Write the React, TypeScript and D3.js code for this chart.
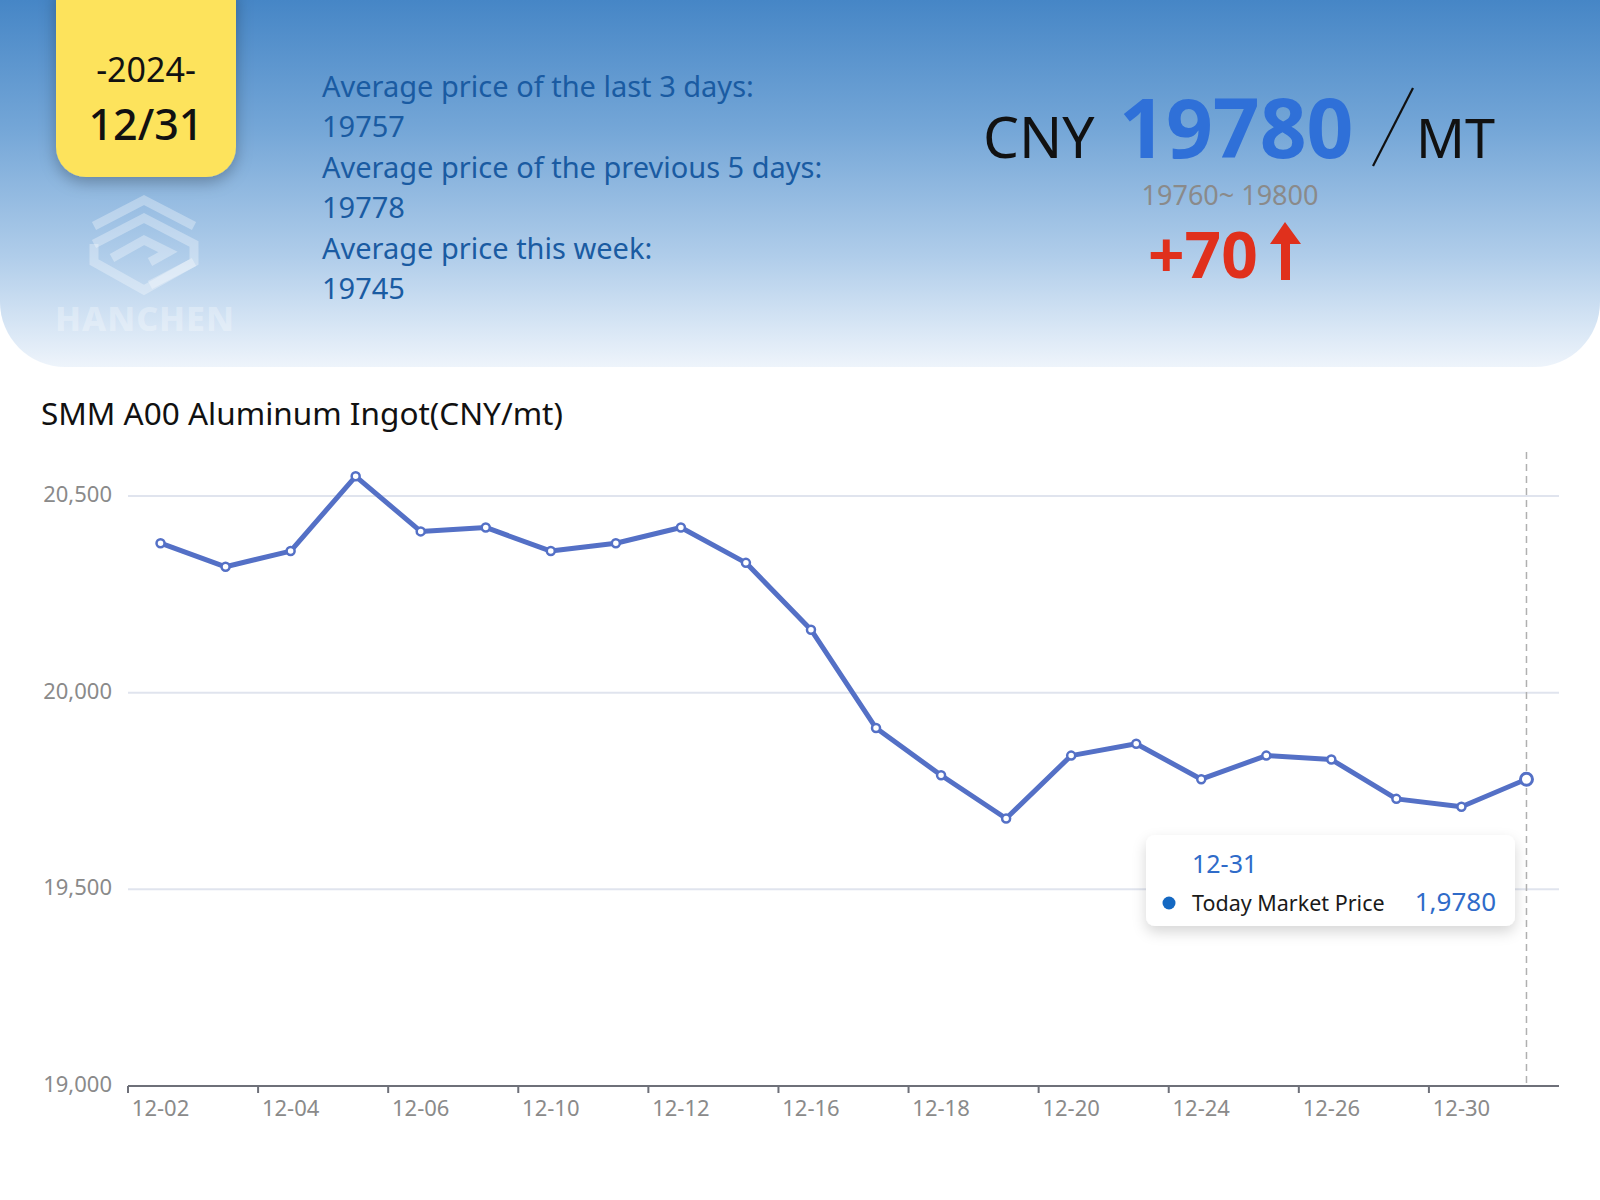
import React from 'react';
import * as d3 from 'd3';

const dates = [
  '12-02', '12-03', '12-04', '12-05', '12-06',
  '12-09', '12-10', '12-11', '12-12', '12-13',
  '12-16', '12-17', '12-18', '12-19', '12-20',
  '12-23', '12-24', '12-25', '12-26', '12-27',
  '12-30', '12-31'
];
const prices = [
  20380, 20320, 20360, 20550, 20410,
  20420, 20360, 20380, 20420, 20330,
  20160, 19910, 19790, 19680, 19840,
  19870, 19780, 19840, 19830, 19730,
  19710, 19780
];
const yTicks = [19000, 19500, 20000, 20500];
const summaryLines = [
  'Average price of the last 3 days:',
  '19757',
  'Average price of the previous 5 days:',
  '19778',
  'Average price this week:',
  '19745'
];

const W = 1600;
const H = 1200;
const FONT = '"Noto Sans", sans-serif';

const App: React.FC = () => {
  if (typeof document !== 'undefined') document.body.style.margin = '0';

  const x = d3.scaleBand<string>().domain(dates).range([128, 1559]).padding(0);
  const y = d3.scaleLinear().domain([19000, 20500]).range([1086, 496]);
  const cx = (d: string) => (x(d) ?? 0) + x.bandwidth() / 2;

  const line = d3.line<number>()
    .x((_, i) => cx(dates[i]))
    .y(d => y(d));

  const last = dates.length - 1;
  const tickIdx = dates.map((_, i) => i).filter(i => i % 2 === 0);

  return (
    <svg width={W} height={H} style={{ display: 'block', fontFamily: FONT }}>
      <defs>
        <linearGradient id="hdr" x1="0" y1="0" x2="0" y2="1">
          <stop offset="0%" stopColor="#4686c6" />
          <stop offset="35%" stopColor="#74a6d7" />
          <stop offset="70%" stopColor="#b0cdea" />
          <stop offset="100%" stopColor="#eef4fb" />
        </linearGradient>
        <filter id="cardShadow" x="-30%" y="-30%" width="160%" height="160%">
          <feDropShadow dx="0" dy="5" stdDeviation="8" floodColor="#000" floodOpacity="0.28" />
        </filter>
        <filter id="tipShadow" x="-20%" y="-40%" width="140%" height="190%">
          <feDropShadow dx="0" dy="6" stdDeviation="7" floodColor="#000" floodOpacity="0.16" />
        </filter>
      </defs>

      <rect width={W} height={H} fill="#fff" />

      {/* header band */}
      <path
        d={`M0,0 H${W} V302 A65,65 0 0 1 ${W - 65},367 H65 A65,65 0 0 1 0,302 Z`}
        fill="url(#hdr)"
      />

      {/* watermark logo */}
      <g fill="none" stroke="#ffffff" strokeOpacity={0.32} strokeWidth={9} strokeLinejoin="miter">
        <polyline points="94,226 144,200 194,226" />
        <polyline points="94,244 144,218 194,244 194,262 150,285" />
        <polyline points="94,244 94,262 144,290 194,262" />
        <polyline points="112,258 144,240 168,252 150,262" />
      </g>
      <text x={145} y={331} textAnchor="middle" fontSize={34} fontWeight={800}
        fill="#ffffff" fillOpacity={0.3} letterSpacing={1}>HANCHEN</text>

      {/* date card */}
      <path d="M56,-10 H236 V147 A30,30 0 0 1 206,177 H86 A30,30 0 0 1 56,147 Z"
        fill="#fde35c" filter="url(#cardShadow)" />
      <text x={146} y={82} textAnchor="middle" fontSize={34} fill="#111">-2024-</text>
      <text x={146} y={140} textAnchor="middle" fontSize={43} fontWeight={500} fill="#111">12/31</text>

      {/* summary text */}
      {summaryLines.map((t, i) => (
        <text key={i} x={322} y={97 + i * 40.4} fontSize={29} fill="#1a5ba2">{t}</text>
      ))}

      {/* price headline */}
      <text x={983} y={158} fontSize={57} fill="#111">CNY</text>
      <text x={1119} y={158} fontSize={82} fontWeight={700} fill="#2f70d8">19780</text>
      <line x1={1413} y1={88} x2={1373} y2={166} stroke="#111" strokeWidth={2.2} />
      <text x={1416} y={158} fontSize={54} fill="#111">MT</text>
      <text x={1230} y={205} textAnchor="middle" fontSize={27} fill="#8a8a8a">19760~ 19800</text>
      <text x={1148} y={278} fontSize={64} fontWeight={700} fill="#e0301c">+70</text>
      <path d="M1285,222 L1301,244 L1290,244 L1290,280 L1281,280 L1281,244 L1270,244 Z" fill="#e0301c" />

      {/* chart title */}
      <text x={41} y={425} fontSize={31.5} fill="#111">SMM A00 Aluminum Ingot(CNY/mt)</text>

      {/* grid + y labels */}
      {yTicks.map(t => (
        <g key={t}>
          {t !== 19000 && (
            <line x1={128} x2={1559} y1={y(t)} y2={y(t)} stroke="#e0e4ee" strokeWidth={2} />
          )}
          <text x={112} y={y(t) - 3} textAnchor="end" dominantBaseline="central"
            fontSize={22} fill="#8a8a8a">{d3.format(',')(t)}</text>
        </g>
      ))}

      {/* x axis */}
      <line x1={128} x2={1559} y1={1086} y2={1086} stroke="#6e7079" strokeWidth={2} />
      {tickIdx.map(i => (
        <g key={dates[i]}>
          <line x1={x(dates[i])} x2={x(dates[i])} y1={1086} y2={1093} stroke="#6e7079" strokeWidth={2} />
          <text x={cx(dates[i])} y={1116} textAnchor="middle" fontSize={22} fill="#8a8a8a">{dates[i]}</text>
        </g>
      ))}

      {/* hover guide */}
      <line x1={cx(dates[last])} x2={cx(dates[last])} y1={452} y2={1086}
        stroke="#b0b0b0" strokeWidth={1.5} strokeDasharray="7,5" />

      {/* series */}
      <path d={line(prices) ?? ''} fill="none" stroke="#5470c6" strokeWidth={5} strokeLinejoin="round" />
      {prices.map((p, i) => (
        <circle key={i} cx={cx(dates[i])} cy={y(p)} r={i === last ? 6 : 4}
          fill="#fff" stroke="#5470c6" strokeWidth={i === last ? 3 : 2.5} />
      ))}

      {/* tooltip */}
      <rect x={1146} y={835} width={369} height={91} rx={9} fill="#fff" filter="url(#tipShadow)" />
      <text x={1192} y={873} fontSize={25} fill="#2f6bc9">{dates[last]}</text>
      <circle cx={1169} cy={903} r={6.5} fill="#1468c2" />
      <text x={1192} y={911} fontSize={21.5} fill="#1a1a1a">Today Market Price</text>
      <text x={1496} y={911} textAnchor="end" fontSize={26} fill="#2f6bc9">1,9780</text>
    </svg>
  );
};

export default App;
